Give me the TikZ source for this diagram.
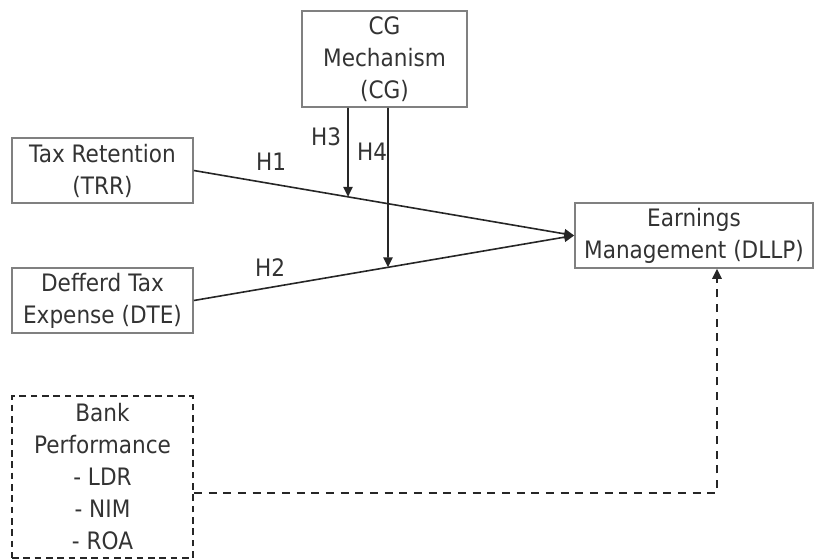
\documentclass[tikz,border=0pt]{standalone}
\usepackage{fontspec}
\setmainfont{DejaVu Sans}[FakeStretch=0.9]
\usetikzlibrary{arrows.meta,calc}
\definecolor{txt}{HTML}{333333}
\definecolor{bord}{HTML}{808080}
\begin{document}
\begin{tikzpicture}[x=0.75pt,y=-0.75pt,
  every node/.style={font=\fontsize{18}{24}\selectfont, text=txt, align=center, inner sep=0pt},
  box/.style={draw=bord, line width=1.2pt, minimum width=135.75pt, minimum height=48.75pt},
  dbox/.style={draw=black!85, line width=1.3pt, dash pattern=on 5pt off 3.5pt, minimum width=135.75pt, minimum height=121.5pt},
  conn/.style={draw=black!85, line width=1.2pt},
  arr/.style={conn, -{Triangle[length=7.5pt,width=7pt]}},
  darr/.style={draw=black!85, line width=1.4pt, dash pattern=on 6pt off 5pt, -{Triangle[length=7.5pt,width=7pt]}},
  lab/.style={}
]
\useasboundingbox (0,0) rectangle (817,560);
\node[box] (TRR) at (102.5,170.5) {Tax Retention\\(TRR)};
\node[box] (DTE) at (102.5,300.5) {Defferd Tax\\Expense (DTE)};
\node[box, minimum width=123.75pt, minimum height=72pt] (CG) at (384.5,59) {CG\\Mechanism\\(CG)};
\node[box, minimum width=178.5pt] (DLLP) at (694,235.5) {Earnings\\Management (DLLP)};
\node[dbox] (BANK) at (102.5,477) {Bank\\Performance\\- LDR\\- NIM\\- ROA};

\draw[arr] (TRR.east) -- (DLLP.west);
\draw[arr] (DTE.east) -- (DLLP.west);

\coordinate (h3s) at (CG.south -| 348,0);
\coordinate (h4s) at (CG.south -| 388,0);
\coordinate (h3e) at (intersection of TRR.east--DLLP.west and h3s--348,400);
\coordinate (h4e) at (intersection of DTE.east--DLLP.west and h4s--388,400);
\draw[arr] (h3s) -- (h3e);
\draw[arr] (h4s) -- (h4e);

\node[lab] (H1) at (271,162) {H1};
\node[lab] (H2) at (270,268) {H2};
\node[lab] (H3) at (326,137) {H3};
\node[lab] (H4) at (372,152) {H4};

\coordinate (bk) at ($(BANK.east)+(0,16)$);
\coordinate (dl) at ($(DLLP.south)+(23,0)$);
\draw[darr] (bk) -| (dl);
\end{tikzpicture}
\end{document}
